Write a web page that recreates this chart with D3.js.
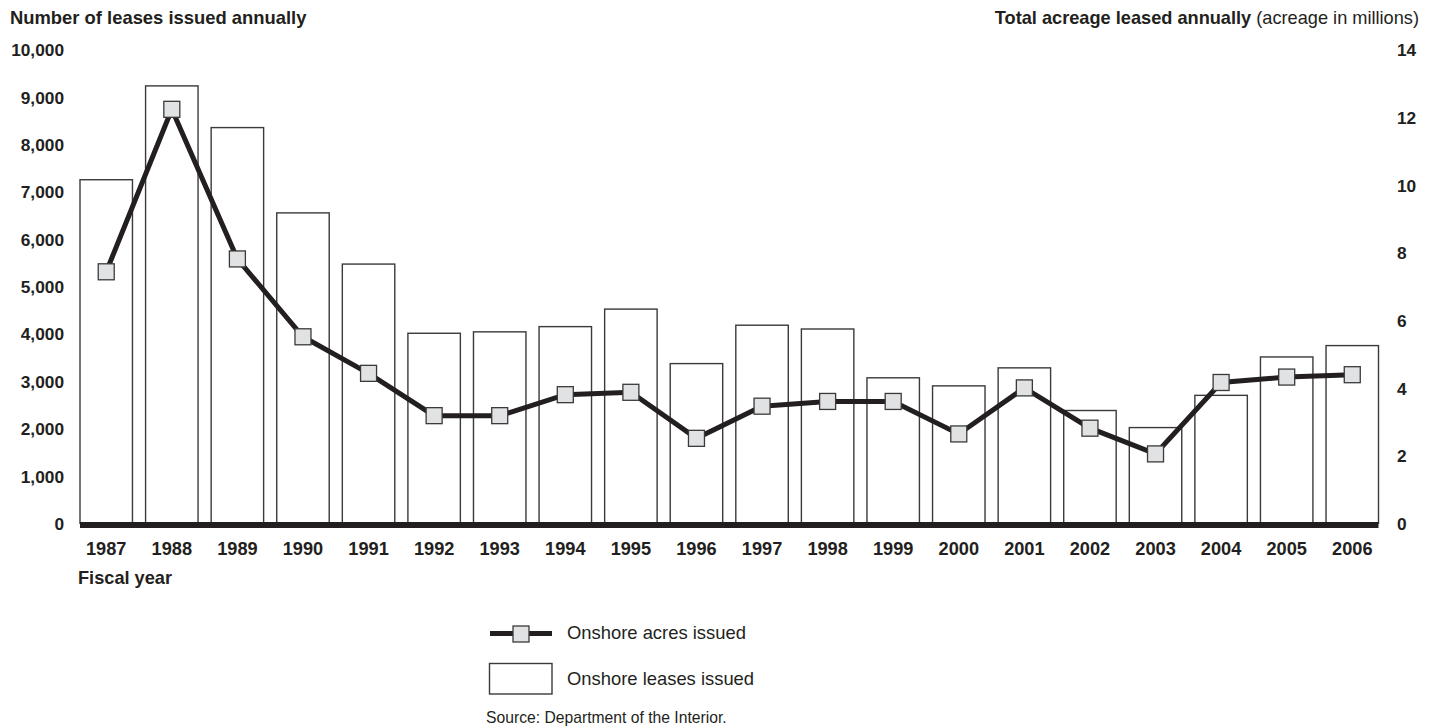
<!DOCTYPE html>
<html>
<head>
<meta charset="utf-8">
<script src="https://cdn.jsdelivr.net/npm/d3@7"></script>
<style>
  html, body { margin: 0; padding: 0; background: #fff; }
  svg { display: block; font-family: "Liberation Sans", Arial, Helvetica, sans-serif; }
</style>
</head>
<body>
<svg id="chart" width="1438" height="727"></svg>
<script>
// ---- data ----
const years = ["1987","1988","1989","1990","1991","1992","1993","1994","1995","1996",
               "1997","1998","1999","2000","2001","2002","2003","2004","2005","2006"];
const leasesIssued = [7250, 9230, 8350, 6550, 5470, 4010, 4040, 4150, 4520, 3370,
                      4180, 4100, 3070, 2900, 3280, 2380, 2020, 2700, 3510, 3750];
const acresIssued = [7.43, 12.23, 7.81, 5.51, 4.43, 3.18, 3.18, 3.80, 3.87, 2.51,
                     3.46, 3.60, 3.60, 2.64, 4.00, 2.81, 2.05, 4.16, 4.32, 4.39];
const leftTicks = [0, 1000, 2000, 3000, 4000, 5000, 6000, 7000, 8000, 9000, 10000];
const rightTicks = [0, 2, 4, 6, 8, 10, 12, 14];
const seriesNames = ["Onshore acres issued", "Onshore leases issued"];

// ---- layout ----
const svg = d3.select("#chart");
const ink = "#231f20";
const x0 = 80, x1 = 1378.5, yTop = 49.4, yBase = 523.3;

const x = d3.scaleBand().domain(years).range([x0, x1]).paddingInner(0.2).paddingOuter(0);
const yL = d3.scaleLinear().domain([0, 10000]).range([yBase, yTop]);
const yR = d3.scaleLinear().domain([0, 14]).range([yBase, yTop]);

// titles
svg.append("text").attr("x", 10).attr("y", 24)
  .attr("font-size", 18.4).attr("font-weight", "bold").attr("fill", ink)
  .text("Number of leases issued annually");

const rt = svg.append("text").attr("x", 1419).attr("y", 24)
  .attr("text-anchor", "end").attr("fill", ink).attr("font-size", 18.2);
rt.append("tspan").attr("font-weight", "bold").text("Total acreage leased annually");
rt.append("tspan").text(" (acreage in millions)");

// left axis
const fmt = d3.format(",");
const leftAxis = d3.axisLeft(yL).tickValues(leftTicks).tickFormat(fmt).tickSize(0).tickPadding(0);
const gL = svg.append("g").attr("transform", "translate(64,0)").call(leftAxis);
gL.select(".domain").remove();
gL.selectAll("text").attr("font-size", 17.3).attr("font-weight", "bold").attr("fill", ink)
  .attr("font-family", "Liberation Sans, Arial, sans-serif").attr("dy", "0.36em");

// right axis
const rightAxis = d3.axisRight(yR).tickValues(rightTicks).tickSize(0).tickPadding(0);
const gR = svg.append("g").attr("transform", "translate(1397,0)").call(rightAxis);
gR.select(".domain").remove();
gR.selectAll("text").attr("font-size", 17.3).attr("font-weight", "bold").attr("fill", ink)
  .attr("font-family", "Liberation Sans, Arial, sans-serif").attr("dy", "0.36em");

// bars
svg.append("g").selectAll("rect").data(years).join("rect")
  .attr("x", d => x(d))
  .attr("y", (d, i) => yL(leasesIssued[i]))
  .attr("width", x.bandwidth())
  .attr("height", (d, i) => yBase - yL(leasesIssued[i]))
  .attr("fill", "#fff").attr("stroke", "#3a3a3a").attr("stroke-width", 1.4);

// baseline
svg.append("rect").attr("x", x0).attr("y", yBase - 1.3).attr("width", x1 - x0).attr("height", 6)
  .attr("fill", ink);

// x axis labels
const bottomAxis = d3.axisBottom(x).tickSize(0).tickPadding(0);
const gB = svg.append("g").attr("transform", "translate(0,548)").call(bottomAxis);
gB.select(".domain").remove();
gB.selectAll("text").attr("font-size", 18.2).attr("font-weight", "bold").attr("fill", ink)
  .attr("font-family", "Liberation Sans, Arial, sans-serif").attr("dy", "0.36em");

svg.append("text").attr("x", 78).attr("y", 584)
  .attr("font-size", 18.2).attr("font-weight", "bold").attr("fill", ink)
  .text("Fiscal year");

// line
const cx = (d) => x(d) + x.bandwidth() / 2;
const line = d3.line().x((d, i) => cx(years[i])).y(d => yR(d));
svg.append("path").datum(acresIssued).attr("d", line)
  .attr("fill", "none").attr("stroke", ink).attr("stroke-width", 5).attr("stroke-linejoin", "miter");

const ms = 16;
svg.append("g").selectAll("rect").data(acresIssued).join("rect")
  .attr("x", (d, i) => cx(years[i]) - ms / 2)
  .attr("y", d => yR(d) - ms / 2)
  .attr("width", ms).attr("height", ms)
  .attr("fill", "#e1e2e3").attr("stroke", "#3a3a3a").attr("stroke-width", 1.3);

// legend
const lg = svg.append("g");
lg.append("line").attr("x1", 490).attr("x2", 552).attr("y1", 633.5).attr("y2", 633.5)
  .attr("stroke", ink).attr("stroke-width", 5);
lg.append("rect").attr("x", 513).attr("y", 626).attr("width", ms).attr("height", ms)
  .attr("fill", "#e1e2e3").attr("stroke", "#3a3a3a").attr("stroke-width", 1.3);
lg.append("text").attr("x", 567).attr("y", 632).attr("dy", "0.36em")
  .attr("font-size", 18.4).attr("fill", ink).text(seriesNames[0]);

lg.append("rect").attr("x", 489.5).attr("y", 663.5).attr("width", 62.5).attr("height", 30.5)
  .attr("fill", "#fff").attr("stroke", "#3a3a3a").attr("stroke-width", 1.4);
lg.append("text").attr("x", 567).attr("y", 678).attr("dy", "0.36em")
  .attr("font-size", 18.4).attr("fill", ink).text(seriesNames[1]);

svg.append("text").attr("x", 486).attr("y", 717).attr("dy", "0.36em")
  .attr("font-size", 15.7).attr("fill", ink).text("Source: Department of the Interior.");
</script>
</body>
</html>
